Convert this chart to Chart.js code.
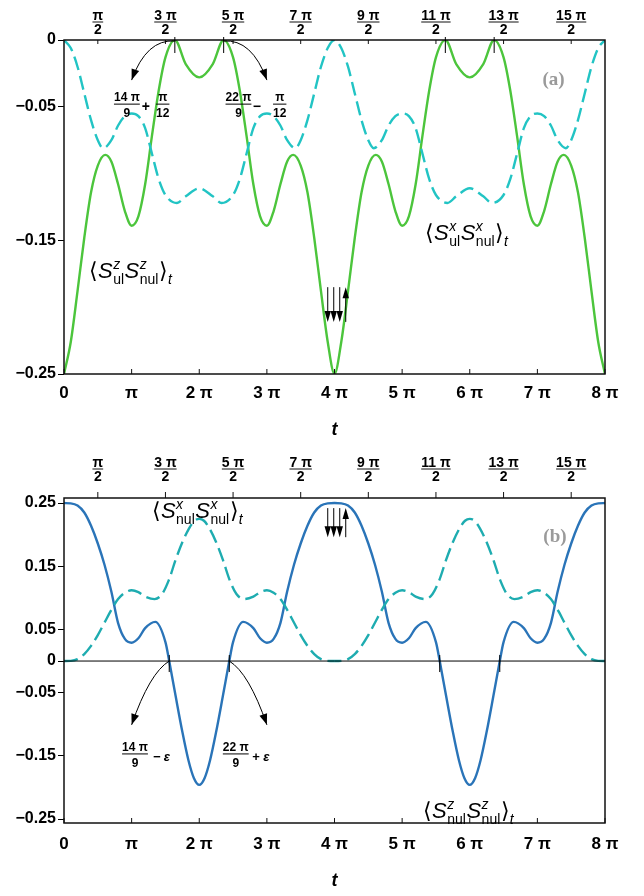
<!DOCTYPE html>
<html lang="en">
<head>
<meta charset="UTF-8">
<title>Spin correlations</title>
<script src="https://cdn.jsdelivr.net/npm/chart.js"></script>
<style>
  body { margin: 0; background: #fff; }
  .panel { position: absolute; left: 0; width: 644px; height: 448px; }
  #panelA { top: 0; }
  #panelB { top: 448px; }
</style>
</head>
<body>
<div class="panel" id="panelA"><canvas id="chartA" width="644" height="448"></canvas></div>
<div class="panel" id="panelB"><canvas id="chartB" width="644" height="448"></canvas></div>
<script>
// time in units of pi
const tGreen = [0,0.1,0.2,0.3,0.4,0.5,0.61,0.7,0.8,0.9,1.0,1.1,1.2,1.3,1.4,1.5,1.64,1.8,2.0,
  2.2,2.36,2.5,2.6,2.7,2.8,2.9,3.0,3.1,3.2,3.3,3.39,3.5,3.6,3.7,3.8,3.9,4.0,
  4.1,4.2,4.3,4.4,4.5,4.61,4.7,4.8,4.9,5.0,5.1,5.2,5.3,5.4,5.5,5.64,5.8,6.0,
  6.2,6.36,6.5,6.6,6.7,6.8,6.9,7.0,7.1,7.2,7.3,7.39,7.5,7.6,7.7,7.8,7.9,8.0];
const zzUl = [-0.25,-0.226,-0.188,-0.148,-0.114,-0.094,-0.086,-0.091,-0.108,-0.128,-0.139,-0.132,-0.108,-0.072,-0.038,-0.013,0,-0.018,-0.028,
  -0.018,0,-0.013,-0.038,-0.072,-0.108,-0.132,-0.139,-0.128,-0.108,-0.091,-0.086,-0.094,-0.114,-0.148,-0.188,-0.226,-0.25,
  -0.226,-0.188,-0.148,-0.114,-0.094,-0.086,-0.091,-0.108,-0.128,-0.139,-0.132,-0.108,-0.072,-0.038,-0.013,0,-0.018,-0.028,
  -0.018,0,-0.013,-0.038,-0.072,-0.108,-0.132,-0.139,-0.128,-0.108,-0.091,-0.086,-0.094,-0.114,-0.148,-0.188,-0.226,-0.25];

const tCyan = [0,0.1,0.2,0.3,0.4,0.5,0.58,0.7,0.8,0.9,1.0,1.1,1.2,1.3,1.4,1.5,1.67,1.8,2.0,
  2.2,2.33,2.5,2.6,2.7,2.8,2.9,3.0,3.1,3.2,3.3,3.42,3.5,3.6,3.7,3.8,3.9,4.0,
  4.1,4.2,4.3,4.4,4.5,4.58,4.7,4.8,4.9,5.0,5.1,5.2,5.3,5.4,5.5,5.67,5.8,6.0,
  6.2,6.33,6.5,6.6,6.7,6.8,6.9,7.0,7.1,7.2,7.3,7.42,7.5,7.6,7.7,7.8,7.9,8.0];
const xxUl = [0,-0.006,-0.02,-0.04,-0.06,-0.075,-0.081,-0.075,-0.064,-0.057,-0.055,-0.057,-0.066,-0.085,-0.104,-0.116,-0.122,-0.117,-0.111,
  -0.117,-0.122,-0.116,-0.104,-0.085,-0.066,-0.057,-0.055,-0.057,-0.064,-0.075,-0.081,-0.075,-0.06,-0.04,-0.02,-0.006,0,
  -0.006,-0.02,-0.04,-0.06,-0.075,-0.081,-0.075,-0.064,-0.057,-0.055,-0.057,-0.066,-0.085,-0.104,-0.116,-0.122,-0.117,-0.111,
  -0.117,-0.122,-0.116,-0.104,-0.085,-0.066,-0.057,-0.055,-0.057,-0.064,-0.075,-0.081,-0.075,-0.06,-0.04,-0.02,-0.006,0];

const tBlue = [0,0.1,0.2,0.3,0.4,0.5,0.6,0.7,0.8,0.9,1.0,1.1,1.2,1.35,1.5,1.556,1.65,1.75,1.84,1.92,2.0,
  2.08,2.16,2.25,2.35,2.444,2.5,2.65,2.8,2.9,3.0,3.1,3.2,3.3,3.4,3.5,3.6,3.7,3.8,3.9,4.0,
  4.1,4.2,4.3,4.4,4.5,4.6,4.7,4.8,4.9,5.0,5.1,5.2,5.35,5.5,5.556,5.65,5.75,5.84,5.92,6.0,
  6.08,6.16,6.25,6.35,6.444,6.5,6.65,6.8,6.9,7.0,7.1,7.2,7.3,7.4,7.5,7.6,7.7,7.8,7.9,8.0];
const zzNul = [0.25,0.2495,0.246,0.235,0.214,0.186,0.152,0.11,0.06,0.035,0.029,0.036,0.052,0.062,0.03,0,-0.055,-0.112,-0.157,-0.185,-0.196,
  -0.185,-0.157,-0.112,-0.055,0,0.03,0.062,0.052,0.036,0.029,0.035,0.06,0.11,0.152,0.186,0.214,0.235,0.246,0.2495,0.25,
  0.2495,0.246,0.235,0.214,0.186,0.152,0.11,0.06,0.035,0.029,0.036,0.052,0.062,0.03,0,-0.055,-0.112,-0.157,-0.185,-0.196,
  -0.185,-0.157,-0.112,-0.055,0,0.03,0.062,0.052,0.036,0.029,0.035,0.06,0.11,0.152,0.186,0.214,0.235,0.246,0.2495,0.25];

const tTeal = [0,0.1,0.2,0.3,0.4,0.5,0.6,0.7,0.8,0.9,1.0,1.1,1.2,1.34,1.45,1.55,1.65,1.75,1.85,1.93,2.0,
  2.07,2.15,2.25,2.35,2.45,2.55,2.66,2.8,2.9,3.0,3.1,3.2,3.3,3.4,3.5,3.6,3.7,3.8,3.9,4.0,
  4.1,4.2,4.3,4.4,4.5,4.6,4.7,4.8,4.9,5.0,5.1,5.2,5.34,5.45,5.55,5.65,5.75,5.85,5.93,6.0,
  6.07,6.15,6.25,6.35,6.45,6.55,6.66,6.8,6.9,7.0,7.1,7.2,7.3,7.4,7.5,7.6,7.7,7.8,7.9,8.0];
const xxNul = [0,0.0003,0.003,0.011,0.024,0.041,0.061,0.081,0.098,0.108,0.112,0.109,0.102,0.098,0.106,0.128,0.16,0.188,0.21,0.222,0.225,
  0.222,0.21,0.188,0.16,0.128,0.106,0.098,0.102,0.109,0.112,0.108,0.098,0.081,0.061,0.041,0.024,0.011,0.003,0.0003,0,
  0.0003,0.003,0.011,0.024,0.041,0.061,0.081,0.098,0.108,0.112,0.109,0.102,0.098,0.106,0.128,0.16,0.188,0.21,0.222,0.225,
  0.222,0.21,0.188,0.16,0.128,0.106,0.098,0.102,0.109,0.112,0.108,0.098,0.081,0.061,0.041,0.024,0.011,0.003,0.0003,0];

const bottomTicks = [0,1,2,3,4,5,6,7,8];
const bottomLabels = ['0','π','2 π','3 π','4 π','5 π','6 π','7 π','8 π'];
const topTicks = [0.5,1.5,2.5,3.5,4.5,5.5,6.5,7.5];
const topNums = ['π','3 π','5 π','7 π','9 π','11 π','13 π','15 π'];
const topDen = '2';
const yTicksA = [0,-0.05,-0.15,-0.25];
const yLabelsA = ['0','−0.05','−0.15','−0.25'];
const yTicksB = [0.25,0.15,0.05,0,-0.05,-0.15,-0.25];
const yLabelsB = ['0.25','0.15','0.05','0','−0.05','−0.15','−0.25'];

const SANS = '"Liberation Sans", Arial, sans-serif';
const SERIF = '"Liberation Serif", "Times New Roman", serif';

function pts(ts, vs) { return ts.map((t, i) => ({ x: t, y: vs[i] })); }

function arrowHead(ctx, x, y, ang, len, w) {
  ctx.beginPath();
  ctx.moveTo(x, y);
  ctx.lineTo(x - len * Math.cos(ang) + w * Math.sin(ang), y - len * Math.sin(ang) - w * Math.cos(ang));
  ctx.lineTo(x - len * Math.cos(ang) - w * Math.sin(ang), y - len * Math.sin(ang) + w * Math.cos(ang));
  ctx.closePath();
  ctx.fill();
}

function curvedArrow(ctx, x0, y0, cx, cy, x1, y1) {
  ctx.beginPath();
  ctx.moveTo(x0, y0);
  ctx.quadraticCurveTo(cx, cy, x1, y1);
  ctx.stroke();
  arrowHead(ctx, x1, y1, Math.atan2(y1 - cy, x1 - cx), 11, 4);
}

// three spins down, one up
function spinArrows(ctx, x, yTop, yBot) {
  ctx.lineWidth = 1;
  [0, 6, 12].forEach(dx => {
    ctx.beginPath(); ctx.moveTo(x + dx, yTop); ctx.lineTo(x + dx, yBot - 4); ctx.stroke();
    arrowHead(ctx, x + dx, yBot, Math.PI / 2, 11, 3.2);
  });
  ctx.beginPath(); ctx.moveTo(x + 18, yBot); ctx.lineTo(x + 18, yTop + 4); ctx.stroke();
  arrowHead(ctx, x + 18, yTop, -Math.PI / 2, 11, 3.2);
}

function fraction(ctx, cx, cy, num, den, size) {
  ctx.font = `bold ${size}px ${SANS}`;
  ctx.textAlign = 'center';
  ctx.textBaseline = 'middle';
  const w = Math.max(ctx.measureText(num).width, ctx.measureText(den).width);
  ctx.fillText(num, cx, cy - size * 0.55);
  ctx.fillText(den, cx, cy + size * 0.8);
  ctx.lineWidth = 1;
  ctx.beginPath(); ctx.moveTo(cx - w / 2, cy); ctx.lineTo(cx + w / 2, cy); ctx.stroke();
}

function plainText(ctx, txt, x, y, font) {
  ctx.font = font;
  ctx.textAlign = 'center';
  ctx.textBaseline = 'middle';
  ctx.fillText(txt, x, y);
}

// <S^sup_subA S^sup_subB>_t
function corr(ctx, x, y, sup, subA, subB, size) {
  const small = Math.round(size * 0.62);
  const reg = `${size}px ${SANS}`, ital = `italic ${size}px ${SANS}`;
  const sReg = `${small}px ${SANS}`, sItal = `italic ${small}px ${SANS}`;
  ctx.textAlign = 'left';
  ctx.textBaseline = 'alphabetic';
  let cx = x;
  const put = (txt, font, dy) => { ctx.font = font; ctx.fillText(txt, cx, y + dy); return ctx.measureText(txt).width; };
  cx += put('⟨', reg, 0);
  [subA, subB].forEach(sub => {
    cx += put('S', ital, 0) + 0.5;
    ctx.font = sItal; const w1 = ctx.measureText(sup).width;
    ctx.fillText(sup, cx, y - size * 0.42);
    ctx.font = sReg; const w2 = ctx.measureText(sub).width;
    ctx.fillText(sub, cx, y + size * 0.27);
    cx += Math.max(w1, w2) + 0.5;
  });
  cx += put('⟩', reg, 0);
  put('t', sItal, size * 0.27);
}

// frame, inner x ticks, fraction bars on the top axis
function frameAndTicks(chart, topPad, topTickOut) {
  const { ctx, chartArea: a, scales } = chart;
  ctx.save();
  ctx.strokeStyle = '#111';
  ctx.lineWidth = 1.5;
  ctx.strokeRect(a.left, a.top, a.right - a.left, a.bottom - a.top);
  ctx.lineWidth = 1;
  bottomTicks.forEach(v => {
    const x = scales.x.getPixelForValue(v);
    ctx.beginPath(); ctx.moveTo(x, a.bottom); ctx.lineTo(x, a.bottom - 5); ctx.stroke();
  });
  ctx.font = `bold 14px ${SANS}`;
  topTicks.forEach((v, i) => {
    const x = scales.x2.getPixelForValue(v);
    ctx.beginPath();
    ctx.moveTo(x, a.top);
    ctx.lineTo(x, topTickOut ? a.top - 6 : a.top + 4);
    ctx.stroke();
    const w = ctx.measureText(topNums[i]).width;
    const yb = a.top - topPad - 23;
    ctx.beginPath(); ctx.moveTo(x - w / 2, yb); ctx.lineTo(x + w / 2, yb); ctx.stroke();
  });
  ctx.restore();
}

function baseOptions(yMin, yMax, yTicks, yLabels, topPad, bottomPad, titlePad, topH, bottomH) {
  return {
    responsive: false,
    animation: false,
    events: [],
    layout: { padding: { left: 0, right: 39, top: 0, bottom: 0 } },
    plugins: { legend: { display: false }, tooltip: { enabled: false } },
    elements: { point: { radius: 0 } },
    scales: {
      x: {
        type: 'linear', position: 'bottom', min: 0, max: 8,
        afterBuildTicks: s => { s.ticks = bottomTicks.map(v => ({ value: v })); },
        afterFit: s => { s.height = bottomH; },
        grid: { display: false }, border: { display: false },
        ticks: {
          autoSkip: false, maxRotation: 0, padding: bottomPad, color: '#000',
          font: { family: SANS, size: 17, weight: 'bold', lineHeight: 1 },
          callback: v => bottomLabels[bottomTicks.indexOf(v)]
        },
        title: {
          display: true, text: 't', color: '#000',
          font: { family: SANS, size: 18, weight: 'bold', style: 'italic' },
          padding: { top: 0, bottom: titlePad }
        }
      },
      x2: {
        type: 'linear', position: 'top', min: 0, max: 8,
        afterBuildTicks: s => { s.ticks = topTicks.map(v => ({ value: v })); },
        afterFit: s => { s.height = topH; },
        grid: { display: false }, border: { display: false },
        ticks: {
          autoSkip: false, maxRotation: 0, padding: topPad, color: '#000',
          font: { family: SANS, size: 14, weight: 'bold', lineHeight: 1 },
          callback: v => [topNums[topTicks.indexOf(v)], topDen]
        }
      },
      y: {
        type: 'linear', min: yMin, max: yMax,
        afterBuildTicks: s => { s.ticks = yTicks.map(v => ({ value: v })); },
        afterFit: s => { s.width = 64; },
        grid: { drawOnChartArea: false, drawTicks: true, tickLength: 6, color: '#000' },
        border: { display: false },
        ticks: {
          padding: 2, color: '#000',
          font: { family: SANS, size: 16, weight: 'bold' },
          callback: v => yLabels[yTicks.indexOf(v)]
        }
      }
    }
  };
}

// panel (a)
const extrasA = {
  id: 'extrasA',
  afterDraw(chart) {
    frameAndTicks(chart, -5, false);
    const { ctx, scales } = chart;
    const px = t => scales.x.getPixelForValue(t);
    const py = v => scales.y.getPixelForValue(v);
    ctx.save();
    ctx.fillStyle = '#000';
    ctx.strokeStyle = '#000';
    ctx.lineWidth = 1;
    [1.639, 2.361, 5.639, 6.361].forEach(t => {
      ctx.beginPath(); ctx.moveTo(px(t), py(0) - 3); ctx.lineTo(px(t), py(0) + 13); ctx.stroke();
    });
    curvedArrow(ctx, px(1.639), py(0) + 1, px(1.22), py(0) - 1, px(1.0), py(-0.03));
    curvedArrow(ctx, px(2.361), py(0) + 1, px(2.78), py(0) - 1, px(3.0), py(-0.03));
    fraction(ctx, px(0.93), py(-0.048), '14 π', '9', 12);
    plainText(ctx, '+', px(1.21), py(-0.05), `bold 14px ${SANS}`);
    fraction(ctx, px(1.46), py(-0.048), 'π', '12', 12);
    fraction(ctx, px(2.58), py(-0.048), '22 π', '9', 12);
    plainText(ctx, '−', px(2.85), py(-0.05), `bold 14px ${SANS}`);
    fraction(ctx, px(3.19), py(-0.048), 'π', '12', 12);
    spinArrows(ctx, px(3.9), py(-0.185), py(-0.211));
    corr(ctx, px(5.34), py(-0.15), 'x', 'ul', 'nul', 22);
    corr(ctx, px(0.37), py(-0.178), 'z', 'ul', 'nul', 22);
    ctx.fillStyle = '#9a9a9a';
    plainText(ctx, '(a)', px(7.24), py(-0.03), `bold 19px ${SERIF}`);
    ctx.restore();
  }
};

// panel (b)
const extrasB = {
  id: 'extrasB',
  afterDraw(chart) {
    frameAndTicks(chart, 6, true);
    const { ctx, chartArea: a, scales } = chart;
    const px = t => scales.x.getPixelForValue(t);
    const py = v => scales.y.getPixelForValue(v);
    ctx.save();
    ctx.fillStyle = '#000';
    ctx.strokeStyle = '#000';
    ctx.lineWidth = 1;
    ctx.beginPath(); ctx.moveTo(a.left, py(0)); ctx.lineTo(a.right, py(0)); ctx.stroke();
    [1.556, 2.444, 5.556, 6.444].forEach(t => {
      ctx.beginPath(); ctx.moveTo(px(t), py(0) - 6); ctx.lineTo(px(t), py(0) + 11); ctx.stroke();
    });
    curvedArrow(ctx, px(1.556), py(0), px(1.265), py(-0.019), px(1.0), py(-0.101));
    curvedArrow(ctx, px(2.444), py(0), px(2.735), py(-0.019), px(3.0), py(-0.101));
    fraction(ctx, px(1.05), py(-0.147), '14 π', '9', 12);
    plainText(ctx, '− ε', px(1.44), py(-0.152), `bold italic 13px ${SANS}`);
    fraction(ctx, px(2.54), py(-0.147), '22 π', '9', 12);
    plainText(ctx, '+ ε', px(2.91), py(-0.152), `bold italic 13px ${SANS}`);
    spinArrows(ctx, px(3.9), py(0.242), py(0.196));
    corr(ctx, px(1.30), py(0.226), 'x', 'nul', 'nul', 22);
    corr(ctx, px(5.31), py(-0.248), 'z', 'nul', 'nul', 22);
    ctx.fillStyle = '#9a9a9a';
    plainText(ctx, '(b)', px(7.26), py(0.196), `bold 19px ${SERIF}`);
    ctx.restore();
  }
};

new Chart(document.getElementById('chartA'), {
  type: 'line',
  data: {
    datasets: [
      { data: pts(tCyan, xxUl), borderColor: '#22c4c4', borderWidth: 2.4, borderDash: [14, 6], cubicInterpolationMode: 'monotone', xAxisID: 'x', yAxisID: 'y' },
      { data: pts(tGreen, zzUl), borderColor: '#4cc53c', borderWidth: 2.4, cubicInterpolationMode: 'monotone', xAxisID: 'x', yAxisID: 'y' }
    ]
  },
  options: baseOptions(-0.25, 0, yTicksA, yLabelsA, -5, 3, 7, 40, 74),
  plugins: [extrasA]
});

new Chart(document.getElementById('chartB'), {
  type: 'line',
  data: {
    datasets: [
      { data: pts(tTeal, xxNul), borderColor: '#1eacb0', borderWidth: 2.4, borderDash: [14, 6], cubicInterpolationMode: 'monotone', xAxisID: 'x', yAxisID: 'y' },
      { data: pts(tBlue, zzNul), borderColor: '#2a74b8', borderWidth: 2.4, cubicInterpolationMode: 'monotone', xAxisID: 'x', yAxisID: 'y' }
    ]
  },
  options: baseOptions(-0.2563, 0.258, yTicksB, yLabelsB, 6, 5, 4, 50, 73),
  plugins: [extrasB]
});
</script>
</body>
</html>
